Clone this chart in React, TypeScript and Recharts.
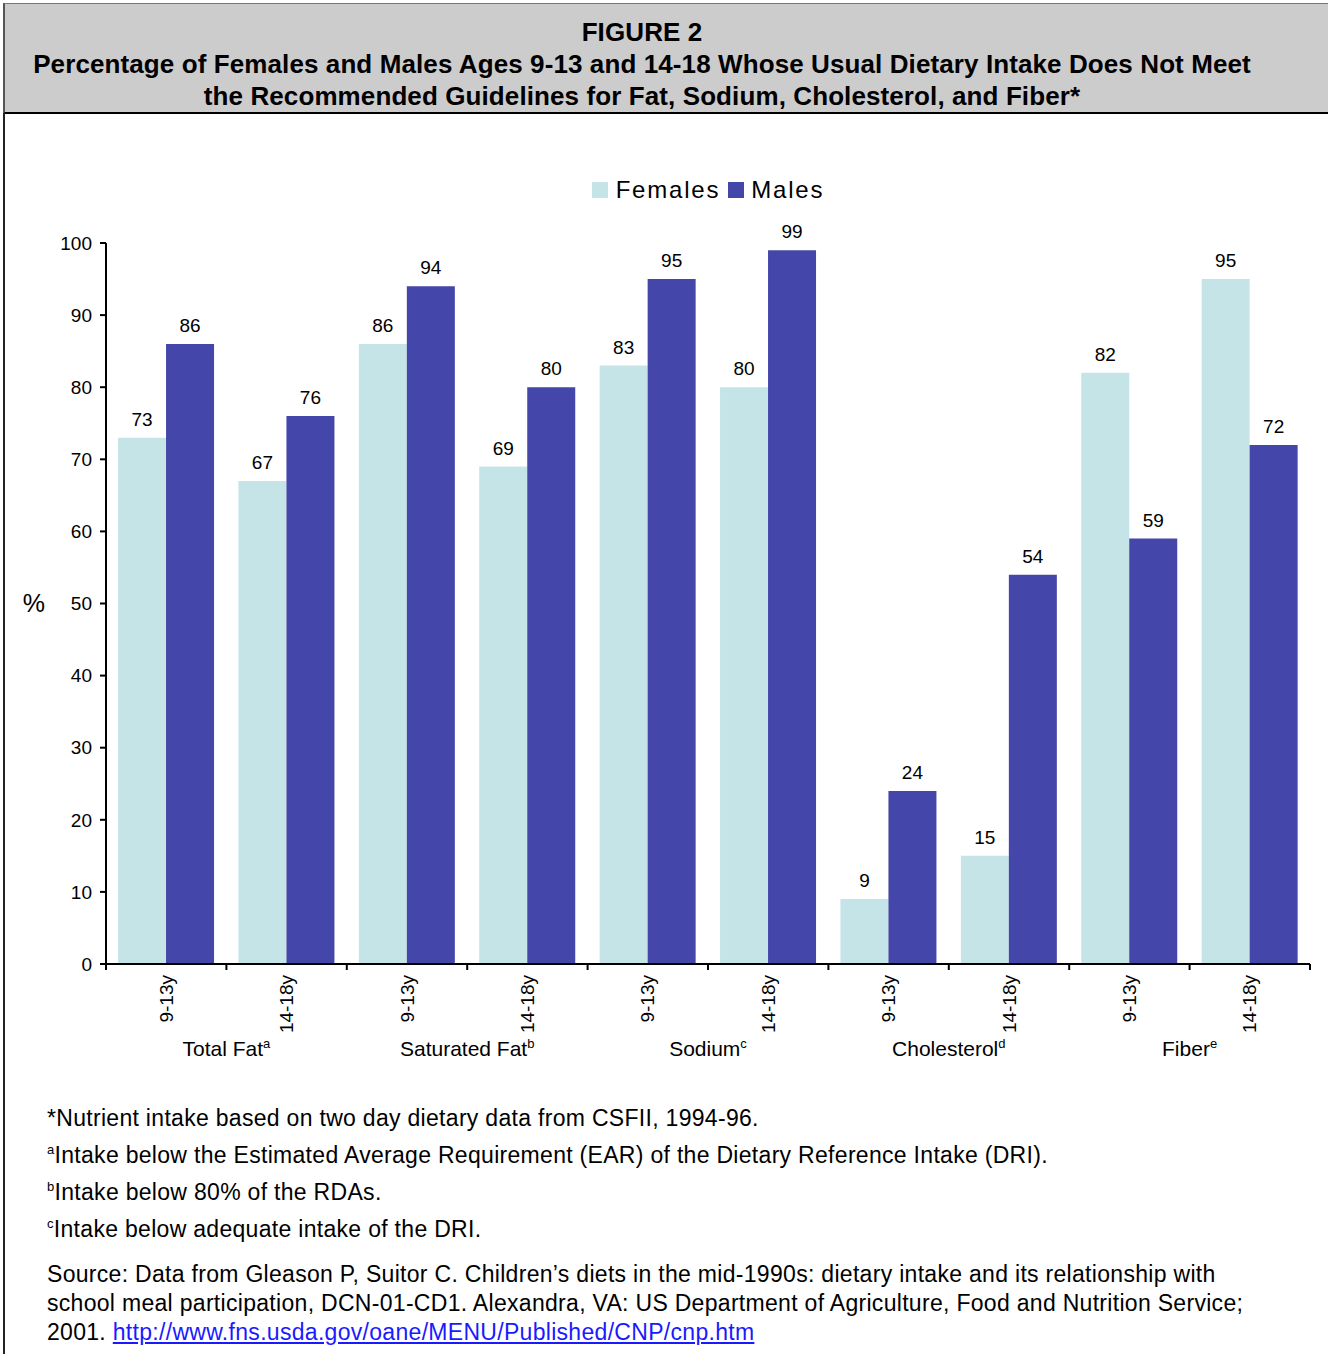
import React from 'react';
import { BarChart, Bar, XAxis, YAxis, Legend, LabelList, Label } from 'recharts';

const ageGroups = ['9-13y', '14-18y'];
const nutrients = ['Total Fat', 'Saturated Fat', 'Sodium', 'Cholesterol', 'Fiber'];
const nutrientMarks = ['a', 'b', 'c', 'd', 'e'];
const femalesPct = [73, 67, 86, 69, 83, 80, 9, 15, 82, 95];
const malesPct = [86, 76, 94, 80, 95, 99, 24, 54, 59, 72];
const yTicks = [0, 10, 20, 30, 40, 50, 60, 70, 80, 90, 100];

const FEMALE_COLOR = '#c5e4e7';
const MALE_COLOR = '#4446a9';
const FONT = '"Liberation Sans", Arial, Helvetica, sans-serif';

const rows = femalesPct.map((f, i) => ({
  id: `${nutrients[Math.floor(i / 2)]}|${ageGroups[i % 2]}`,
  age: ageGroups[i % 2],
  Females: f,
  Males: malesPct[i],
}));

const CHART_W = 1328;
const CHART_H = 1100;
const LEGEND_H = 28;
const MARGIN = { top: 243 - LEGEND_H, right: 18, left: 46, bottom: 36 };
const Y_AXIS_W = 60;
const PLOT_W = CHART_W - MARGIN.left - MARGIN.right - Y_AXIS_W;
const HALF_BAND = PLOT_W / rows.length / 2;

const XTick = (props: any) => {
  const { x, y, payload, index } = props;
  const i = payload?.index ?? index ?? 0;
  const age = rows[i]?.age ?? '';
  const ty = y + 11;
  return (
    <g>
      <line x1={x - HALF_BAND} x2={x - HALF_BAND} y1={y} y2={y + 6} stroke="#000" strokeWidth={2} />
      {i === rows.length - 1 && (
        <line x1={x + HALF_BAND} x2={x + HALF_BAND} y1={y} y2={y + 6} stroke="#000" strokeWidth={2} />
      )}
      <text
        x={x}
        y={ty}
        transform={`rotate(-90, ${x}, ${ty})`}
        textAnchor="end"
        dominantBaseline="central"
        fontSize={19}
        fill="#000"
        fontFamily={FONT}
      >
        {age}
      </text>
      {i % 2 === 0 && (
        <text
          x={x + HALF_BAND}
          y={y + 84}
          textAnchor="middle"
          dominantBaseline="central"
          fontSize={21}
          fill="#000"
          fontFamily={FONT}
        >
          {nutrients[Math.floor(i / 2)]}
          <tspan fontSize={13} dy={-5}>{nutrientMarks[Math.floor(i / 2)]}</tspan>
        </text>
      )}
    </g>
  );
};

const LegendContent = () => (
  <div style={{ display: 'flex', justifyContent: 'center', alignItems: 'center', fontFamily: FONT, fontSize: 24, color: '#000', letterSpacing: 1.8, height: LEGEND_H }}>
    <span style={{ display: 'inline-block', width: 16, height: 16, background: FEMALE_COLOR, marginRight: 8 }} />
    <span style={{ marginRight: 8 }}>Females</span>
    <span style={{ display: 'inline-block', width: 16, height: 16, background: MALE_COLOR, marginRight: 7 }} />
    <span>Males</span>
  </div>
);

const supStyle: React.CSSProperties = { fontSize: 13, verticalAlign: 'super', lineHeight: 0 };

export default function App() {
  return (
    <div style={{ position: 'absolute', left: 0, top: 0, width: 1328, height: 1354, background: '#fff', fontFamily: FONT, overflow: 'hidden' }}>
      {/* title box */}
      <div
        style={{
          position: 'absolute', left: 3, top: 3, width: 1340, height: 108,
          background: '#cccccc', borderTop: '1px solid #777', borderLeft: '2px solid #555',
          borderBottom: '2px solid #000', textAlign: 'center', fontWeight: 'bold', fontSize: 26, color: '#000',
        }}
      >
        <div style={{ width: 1274, position: 'absolute', left: 0, top: 12, lineHeight: '32px', whiteSpace: 'nowrap', letterSpacing: 0.1 }}>
          <div>FIGURE 2</div>
          <div>Percentage of Females and Males Ages 9-13 and 14-18 Whose Usual Dietary Intake Does Not Meet</div>
          <div>the Recommended Guidelines for Fat, Sodium, Cholesterol, and Fiber*</div>
        </div>
      </div>
      {/* left frame line */}
      <div style={{ position: 'absolute', left: 3, top: 113, width: 2, height: 1241, background: '#222' }} />

      <div style={{ position: 'absolute', left: 0, top: 0 }}>
        <BarChart
          width={CHART_W}
          height={CHART_H}
          data={rows}
          margin={MARGIN}
          barCategoryGap="10%"
          barGap={0}
        >
          <XAxis
            dataKey="id"
            interval={0}
            tickLine={false}
            tickSize={0}
            tickMargin={0}
            height={100}
            axisLine={{ stroke: '#000', strokeWidth: 2 }}
            tick={<XTick />}
          />
          <YAxis
            width={Y_AXIS_W}
            domain={[0, 100]}
            ticks={yTicks}
            interval={0}
            tickSize={6}
            tickMargin={8}
            axisLine={{ stroke: '#000', strokeWidth: 2 }}
            tickLine={{ stroke: '#000', strokeWidth: 2 }}
            tick={{ fill: '#000', fontSize: 19, fontFamily: FONT }}
          >
            <Label value="%" position="left" offset={1} fill="#000" fontSize={25} fontFamily={FONT} />
          </YAxis>
          <Legend
            verticalAlign="top"
            content={<LegendContent />}
            wrapperStyle={{ top: 176, left: 106, width: 1204, height: LEGEND_H }}
          />
          <Bar dataKey="Females" fill={FEMALE_COLOR} isAnimationActive={false}>
            <LabelList dataKey="Females" position="top" offset={12} fill="#000" fontSize={19} fontFamily={FONT} />
          </Bar>
          <Bar dataKey="Males" fill={MALE_COLOR} isAnimationActive={false}>
            <LabelList dataKey="Males" position="top" offset={12} fill="#000" fontSize={19} fontFamily={FONT} />
          </Bar>
        </BarChart>
      </div>

      {/* footnotes */}
      <div style={{ position: 'absolute', left: 47, top: 1104, fontSize: 23, color: '#000', lineHeight: '29px', width: 1212, letterSpacing: 0.3 }}>
        <div style={{ marginBottom: 8 }}>*Nutrient intake based on two day dietary data from CSFII, 1994-96.</div>
        <div style={{ marginBottom: 8 }}><span style={supStyle}>a</span>Intake below the Estimated Average Requirement (EAR) of the Dietary Reference Intake (DRI).</div>
        <div style={{ marginBottom: 8 }}><span style={supStyle}>b</span>Intake below 80% of the RDAs.</div>
        <div style={{ marginBottom: 16 }}><span style={supStyle}>c</span>Intake below adequate intake of the DRI.</div>
        <div>
          Source: Data from Gleason P, Suitor C. Children’s diets in the mid-1990s: dietary intake and its relationship with school meal participation, DCN-01-CD1. Alexandra, VA: US Department of Agriculture, Food and Nutrition Service; 2001.{' '}
          <a href="#" style={{ color: '#1a1aff', textDecoration: 'underline' }}>http://www.fns.usda.gov/oane/MENU/Published/CNP/cnp.htm</a>
        </div>
      </div>
    </div>
  );
}
